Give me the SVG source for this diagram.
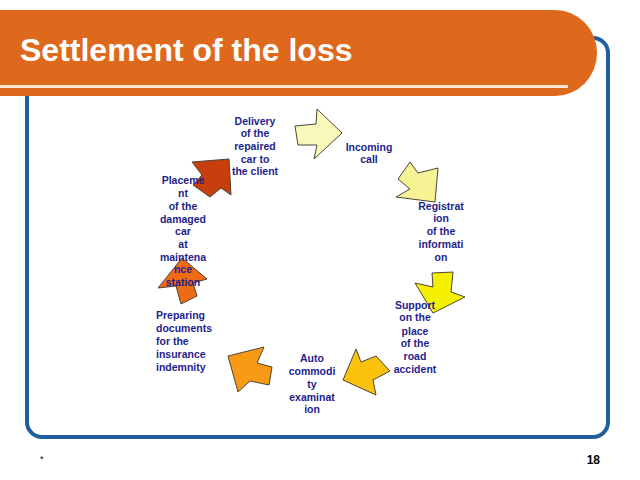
<svg xmlns="http://www.w3.org/2000/svg" width="640" height="480" viewBox="0 0 640 480">
<style>
.lbl{font-family:"Liberation Sans",Arial,sans-serif;font-weight:bold;font-size:10.5px;fill:#1e1e8c;text-anchor:middle}
.lft{text-anchor:start}
.arr{stroke:#4a4636;stroke-width:1;stroke-linejoin:miter}
</style>
<rect x="0" y="0" width="640" height="480" fill="#ffffff"/>
<g id="frame">
<rect x="27" y="38" width="581" height="399" rx="15" ry="15" fill="none" stroke="#1f5f9f" stroke-width="4"/>
</g>
<g id="banner">
<path d="M0,10 H555 A42,43 0 0 1 555,96 H0 Z" fill="#de691d"/>
<rect x="0" y="85" width="568" height="3" fill="#fbe6d2"/>
<text x="20" y="61" font-family="Liberation Sans,Arial,sans-serif" font-weight="bold" font-size="32" fill="#ffffff">Settlement of the loss</text>
</g>
<g id="connectors">
<polygon id="arrow1" class="arr" fill="#f8f8bc" points="295,126 316,124 317,109 342,133 314,159 317,145 298,145"/>
<polygon id="arrow2" class="arr" fill="#f6f394" points="410,162 418,173 438,168 435,202 396,197 410,189 398,179"/>
<polygon id="arrow3" class="arr" fill="#f4f000" points="432,273 453,272 451,292 465,297 433,313 415,283 433,287"/>
<polygon id="arrow4" class="arr" fill="#fac20c" points="356,349 361,362 376,356 390,371 373,380 376,395 343,380"/>
<polygon id="arrow5" class="arr" fill="#f99a16" points="264,347 257,363 272,367 269,385 250,381 238,392 228,356"/>
<polygon id="arrow6" class="arr" fill="#ee6a14" points="182,258 207,279 193,283 197,296 181,304 176,286 158,288"/>
<polygon id="arrow7" class="arr" fill="#c83e0c" points="192,162 229,159 231,195 221,188 210,197 193,185 202,175"/>
</g>
<g id="node-delivery">
<text class="lbl" x="255" y="125">Delivery</text>
<text class="lbl" x="255" y="137">of the</text>
<text class="lbl" x="255" y="150">repaired</text>
<text class="lbl" x="255" y="163">car to</text>
<text class="lbl" x="255" y="175">the client</text>
</g>
<g id="node-incoming">
<text class="lbl" x="369" y="151">Incoming</text>
<text class="lbl" x="369" y="163">call</text>
</g>
<g id="node-registration">
<text class="lbl" x="441" y="210">Registrat</text>
<text class="lbl" x="441" y="222">ion</text>
<text class="lbl" x="441" y="235">of the</text>
<text class="lbl" x="441" y="248">informati</text>
<text class="lbl" x="441" y="261">on</text>
</g>
<g id="node-support">
<text class="lbl" x="415" y="309">Support</text>
<text class="lbl" x="415" y="321">on the</text>
<text class="lbl" x="415" y="335">place</text>
<text class="lbl" x="415" y="347">of the</text>
<text class="lbl" x="415" y="360">road</text>
<text class="lbl" x="415" y="373">accident</text>
</g>
<g id="node-auto">
<text class="lbl" x="312" y="362">Auto</text>
<text class="lbl" x="312" y="375">commodi</text>
<text class="lbl" x="312" y="388">ty</text>
<text class="lbl" x="312" y="401">examinat</text>
<text class="lbl" x="312" y="413">ion</text>
</g>
<g id="node-preparing">
<text class="lbl lft" x="156" y="319">Preparing</text>
<text class="lbl lft" x="156" y="332">documents</text>
<text class="lbl lft" x="156" y="345">for the</text>
<text class="lbl lft" x="156" y="358">insurance</text>
<text class="lbl lft" x="156" y="371">indemnity</text>
</g>
<g id="node-placement">
<text class="lbl" x="183" y="184">Placeme</text>
<text class="lbl" x="183" y="197">nt</text>
<text class="lbl" x="183" y="210">of the</text>
<text class="lbl" x="183" y="223">damaged</text>
<text class="lbl" x="183" y="235">car</text>
<text class="lbl" x="183" y="248">at</text>
<text class="lbl" x="183" y="261">maintena</text>
<text class="lbl" x="183" y="273">nce</text>
<text class="lbl" x="183" y="286">station</text>
</g>
<g id="footer">
<text x="40" y="462" font-family="Liberation Sans,Arial,sans-serif" font-size="9" fill="#000">*</text>
<text x="600" y="464" font-family="Liberation Sans,Arial,sans-serif" font-weight="bold" font-size="12" fill="#000" text-anchor="end">18</text>
</g>
</svg>
